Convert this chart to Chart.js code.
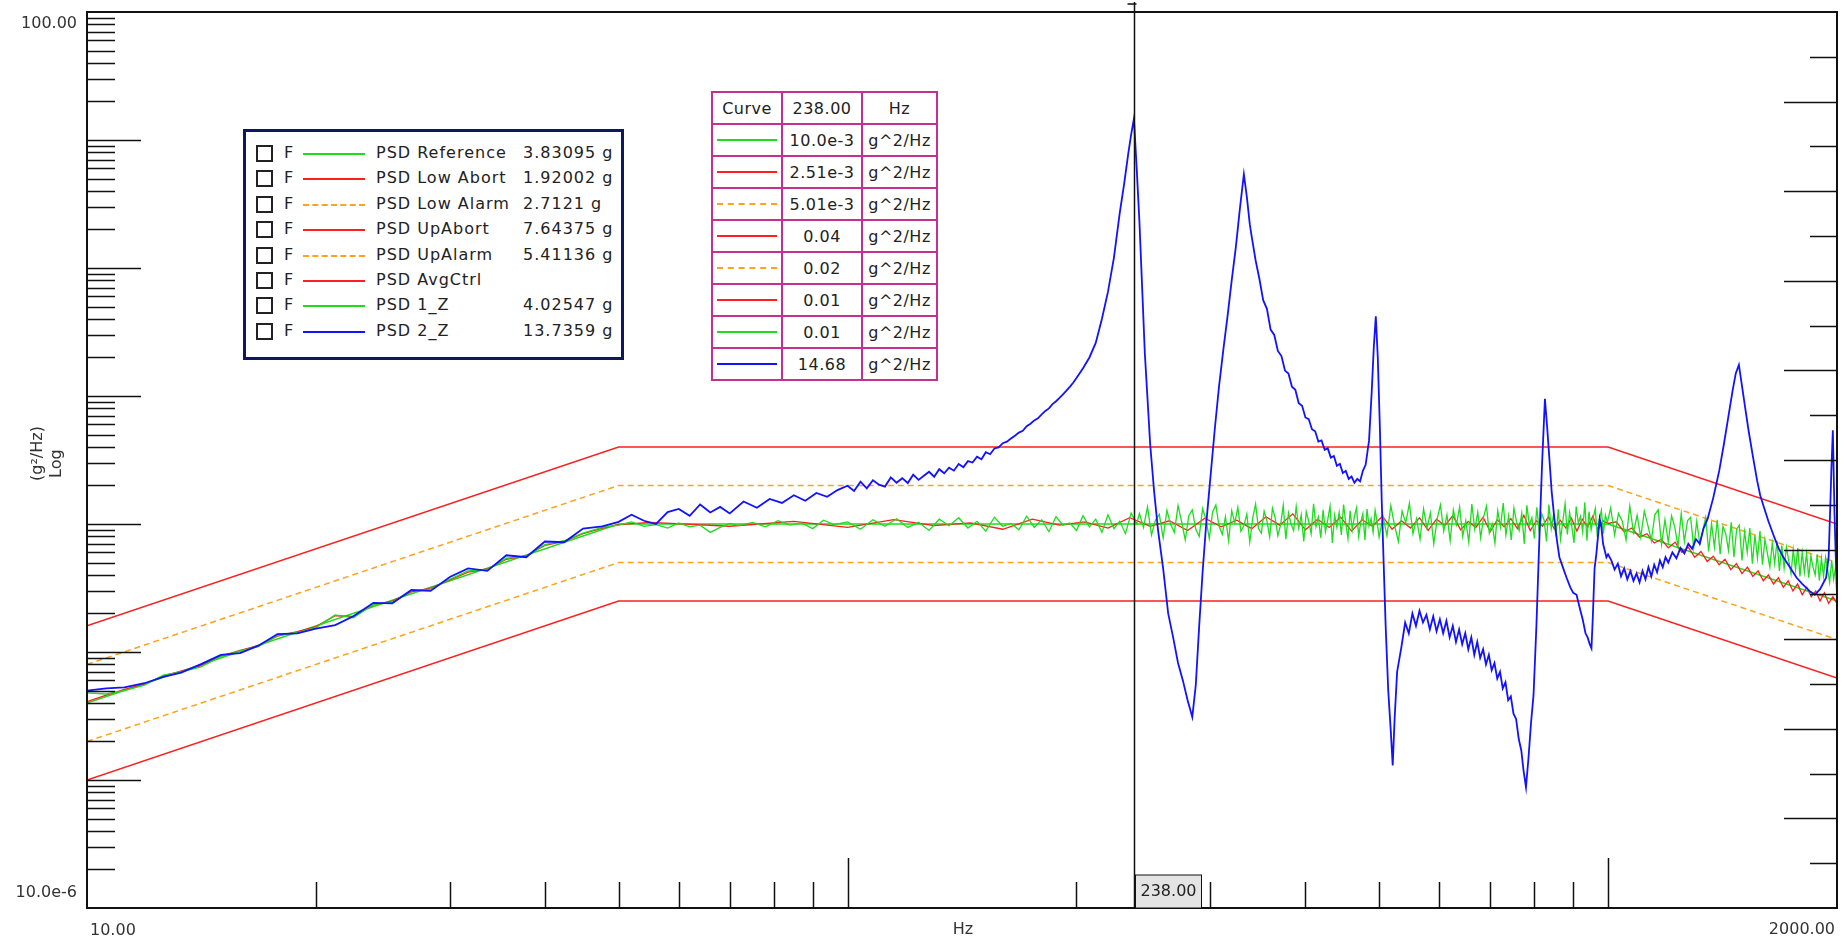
<!DOCTYPE html>
<html>
<head>
<meta charset="utf-8">
<title>PSD</title>
<script src="https://cdn.jsdelivr.net/npm/chart.js@4.4.1/dist/chart.umd.min.js"></script>
<style>
  body { margin: 0; background: #fff; overflow: hidden; }
  #wrap { position: relative; width: 1847px; height: 943px; font-family: "DejaVu Sans", sans-serif; color: #222; }
  #psd-chart { position: absolute; left: 0; top: 0; }
  #legend {
    position: absolute; left: 243px; top: 129px; width: 381px; height: 231px;
    box-sizing: border-box; border: 3px solid #0e1860; background: #fff;
    font-size: 16px; letter-spacing: 1px;
  }
  #legend .row { position: absolute; left: 0; height: 25px; width: 100%; }
  #legend .box { position: absolute; left: 10px; top: 4px; width: 17px; height: 17px; box-sizing: border-box; border: 2px solid #222; }
  #legend .f { position: absolute; left: 38px; top: 2px; }
  #legend .swatch { position: absolute; left: 57px; top: 12px; width: 62px; height: 0; }
  #legend .name { position: absolute; left: 130px; top: 2px; white-space: nowrap; }
  #legend .val { position: absolute; left: 277px; top: 2px; white-space: nowrap; }
  #readout {
    position: absolute; left: 711px; top: 91px; border-collapse: collapse;
    font-size: 16px; letter-spacing: 0.5px; background: #fff;
  }
  #readout td { border: 2px solid #c4308f; height: 30px; padding: 0; text-align: center; }
  #readout td.c1 { width: 68px; }
  #readout td.c2 { width: 78px; }
  #readout td.c3 { width: 73px; }
  #readout .swatch { width: 60px; height: 0; margin: 0 auto; }
</style>
</head>
<body>
<div id="wrap">
  <canvas id="psd-chart" width="1847" height="943"></canvas>
  <div id="legend"></div>
  <table id="readout"></table>
</div>
<script>
// profile breakpoints (Hz, g^2/Hz)
const profileFreq = [10, 50, 1000, 2000];
const psdReference = [0.0004, 0.01, 0.01, 0.0025];
const psdLowAbort = [0.0001, 0.0025, 0.0025, 0.000625];
const psdLowAlarm = [0.0002, 0.005, 0.005, 0.00125];
const psdUpAbort = [0.0016, 0.04, 0.04, 0.01];
const psdUpAlarm = [0.0008, 0.02, 0.02, 0.005];

// measured spectra, values in 1e-3 g^2/Hz
const rampFreq = [10, 10.6, 11.2, 11.9, 12.6, 13.3, 14.1, 15, 15.9, 16.8, 17.8, 18.9, 20, 21.2, 22.4, 23.8, 25.2, 26.7, 28.3, 30, 31.7, 33.6, 35.6, 37.8, 40, 42.4, 44.9, 47.6, 50];
const ramp1Z = [0.48, 0.47, 0.50, 0.55, 0.66, 0.70, 0.76, 0.92, 1.02, 1.10, 1.35, 1.42, 1.55, 1.95, 1.85, 2.35, 2.45, 3.0, 3.1, 3.7, 4.3, 4.4, 5.4, 5.6, 6.9, 7.4, 8.5, 9.4, 9.8];
const rampAvg = [0.41, 0.46, 0.51, 0.56, 0.65, 0.71, 0.78, 0.93, 1.03, 1.12, 1.33, 1.44, 1.58, 1.92, 1.9, 2.33, 2.5, 2.95, 3.15, 3.65, 4.2, 4.45, 5.3, 5.65, 6.8, 7.3, 8.4, 9.3, 9.9];
const ramp2Z = [0.50, 0.52, 0.53, 0.57, 0.64, 0.69, 0.80, 0.95, 0.98, 1.12, 1.38, 1.40, 1.52, 1.62, 1.90, 2.42, 2.40, 3.05, 3.0, 3.85, 4.5, 4.3, 5.7, 5.5, 7.3, 7.2, 9.2, 9.6, 10.4];

const midFreq = [52, 54, 56, 58, 60, 62, 64, 66, 68, 70, 72, 75, 78, 81, 84, 87, 90, 93, 96, 100, 104, 108, 112, 116, 120, 124, 128, 132, 136, 140, 144, 148, 152, 156, 160, 164, 168, 172, 176, 180, 184, 188, 192, 196, 200, 204, 208, 212, 216, 220, 224, 228, 232, 236, 240];
const mid1Z = [10.4, 9.6, 9.9, 9.3, 10.2, 9.5, 9.8, 8.6, 9.4, 10.1, 9.7, 10.3, 9.5, 10.6, 9.8, 10.2, 9.2, 10.7, 9.9, 10.4, 9.1, 10.8, 9.6, 11.0, 9.4, 10.3, 8.9, 10.9, 9.7, 11.2, 9.3, 10.5, 8.8, 11.3, 9.6, 10.1, 9.0, 11.5, 9.4, 10.8, 8.7, 11.4, 9.8, 10.2, 8.9, 11.6, 9.5, 10.9, 8.6, 11.8, 9.2, 10.5, 8.4, 12.2, 10.0];

const highFreq = [242, 245, 248, 251, 254, 257, 260, 263, 266, 269, 272, 275, 278, 281, 284, 287, 290, 293, 296, 299, 302, 305, 308, 311, 314, 317, 320, 323, 326, 329, 332, 335, 338, 341, 344, 347, 350, 353, 356, 359, 362, 365, 368, 371, 374, 377, 380, 383, 386, 389, 392, 395, 398, 401, 404, 407, 410, 413, 416, 419, 422, 425, 428, 431, 434, 437, 440, 443, 446, 449, 452, 455, 458, 461, 464, 467, 470, 473, 476, 479, 482, 485, 488, 491, 494, 497, 500];
const high1Z = [12.1, 9.4, 13.6, 8.2, 10.7, 11.9, 7.8, 12.8, 9.9, 8.6,
  13.9, 10.4, 7.5, 11.6, 12.9, 9.1, 8.0, 13.2, 10.9, 7.7,
  12.4, 14.1, 9.6, 8.3, 11.4, 7.4, 12.7, 10.2, 13.5, 8.8,
  9.7, 12.0, 7.2, 11.1, 14.3, 9.2, 8.5, 12.6, 10.6, 7.9,
  13.3, 11.2, 8.1, 9.8, 14.0, 7.6, 12.2, 10.0, 8.9, 13.7,
  9.3, 11.8, 7.3, 12.5, 10.5, 8.4, 14.4, 9.5, 11.3, 7.8,
  12.9, 8.7, 10.8, 13.8, 7.1, 11.7, 9.4, 12.3, 8.2, 14.2,
  10.1, 7.7, 12.7, 9.0, 11.5, 13.4, 8.0, 10.3, 12.0, 7.5,
  13.1, 9.6, 11.0, 8.6, 12.8, 10.4, 7.9];

const upperFreq = [506, 512, 518, 524, 530, 536, 542, 548, 554, 560, 566, 572, 578, 584, 590, 596, 602, 608, 614, 620, 626, 632, 638, 644, 650, 656, 662, 668, 674, 680, 686, 692, 698, 704, 710, 716, 722, 728, 734, 740, 746, 752, 758, 764, 770, 776, 782, 788, 794, 800, 806, 812, 818, 824, 830, 836, 842, 848, 854, 860, 866, 872, 878, 884, 890, 896, 902, 908, 914, 920, 926, 932, 938, 944, 950, 956, 962, 968, 974, 980, 986, 992, 998];
const upper1Z = [11.4, 8.1, 13.9, 9.7, 7.3, 12.6, 10.2, 14.5, 8.4, 11.0,
  7.6, 13.1, 9.3, 12.2, 7.0, 10.9, 14.1, 8.8, 11.8, 7.4,
  12.9, 9.9, 13.6, 8.0, 10.6, 7.2, 14.3, 9.1, 12.4, 7.8,
  11.3, 13.8, 8.5, 10.0, 7.1, 12.7, 9.5, 14.6, 8.2, 11.6,
  7.5, 13.3, 10.4, 8.9, 12.1, 7.0, 14.0, 9.8, 11.2, 7.7,
  13.5, 8.6, 12.0, 10.7, 7.3, 14.2, 9.2, 11.9, 8.0, 13.0,
  7.6, 10.5, 14.4, 8.3, 12.3, 9.6, 7.1, 13.7, 10.1, 11.5,
  8.7, 14.8, 7.4, 12.5, 9.0, 11.1, 13.2, 7.9, 10.8, 12.8,
  8.4, 11.7, 10.3];

const topFreq = [1008, 1020, 1032, 1044, 1056, 1068, 1080, 1092, 1104, 1116, 1128, 1140, 1152, 1164, 1176, 1188, 1200, 1212, 1224, 1236, 1248, 1260, 1272, 1284, 1296, 1308, 1320, 1332, 1344, 1356, 1368, 1380, 1392, 1404, 1416, 1428, 1440, 1452, 1464, 1476, 1488, 1500, 1512, 1524, 1536, 1548, 1560, 1572, 1584, 1596, 1608, 1620, 1632, 1644, 1656, 1668, 1680, 1692, 1704, 1716, 1728, 1740, 1752, 1764, 1776, 1788, 1800, 1812, 1824, 1836, 1848, 1860, 1872, 1884, 1896, 1908, 1920, 1932, 1944, 1956, 1968, 1980, 1992];
const top1Z = [13.4, 8.2, 12.1, 10.5, 7.5, 13.8, 8.6, 11.7,
  7.9, 12.6, 9.8, 7.4, 11.8, 12.9, 6.9, 10.8,
  7.2, 11.6, 9.4, 6.7, 12.1, 7.3, 10.6, 11.3, 6.5,
  10.5, 7.0, 8.9, 11.2, 6.1, 10.1, 6.6, 10.8,
  5.8, 9.6, 8.4, 6.2, 10.3, 5.5, 9.1, 9.8,
  5.2, 8.7, 6.0, 9.3, 4.9, 8.2, 5.4, 8.8, 4.8,
  7.6, 5.9, 4.6, 7.1, 4.9, 7.4, 4.3, 6.8,
  4.5, 6.6, 5.2, 4.1, 6.3, 4.4, 6.5, 3.9,
  6.0, 4.2, 5.9, 3.8, 5.6, 4.6, 4.0, 5.8,
  3.6, 5.4, 3.9, 5.5, 4.4, 3.5, 5.2, 3.7, 4.6];

const avgFlatFreq = [55, 70, 85, 100, 115, 130, 145, 160, 175, 190, 205, 220, 235, 250, 265, 280, 295, 310, 325, 340, 355, 370, 385, 400, 415, 430, 445, 460, 475, 490, 505, 520, 535, 550, 565, 580, 595, 610, 625, 640, 655, 670, 685, 700, 715, 730, 745, 760, 775, 790, 805, 820, 835, 850, 865, 880, 895, 910, 925, 940, 955, 970, 985, 1000];
const avgFlat = [10.3, 9.6, 10.5, 9.4, 10.8, 9.7, 10.2, 9.1, 10.9, 9.8, 10.4, 9.3, 11.2, 9.6, 10.6, 8.9, 11.1, 9.5, 10.7, 9.2, 11.4, 9.8, 12.0, 9.0, 10.9, 9.4, 11.3, 8.8, 10.8, 9.6, 11.5, 9.1, 10.6, 9.3, 11.2, 8.9, 10.9, 9.7, 11.6, 9.0, 10.5, 9.4, 11.3, 8.7, 10.8, 9.5, 11.0, 9.2, 11.7, 8.9, 10.6, 9.6, 11.4, 9.1, 10.7, 9.3, 11.1, 8.8, 10.9, 9.5, 11.5, 9.0, 10.6, 10.1];
const avgTopFreq = [1025, 1050, 1075, 1100, 1125, 1150, 1175, 1200, 1225, 1250, 1275, 1300, 1325, 1350, 1375, 1400, 1425, 1450, 1475, 1500, 1525, 1550, 1575, 1600, 1625, 1650, 1675, 1700, 1725, 1750, 1775, 1800, 1825, 1850, 1875, 1900, 1925, 1950, 1975, 2000];
const avgTop = [10.4, 8.7, 9.3, 7.9, 8.4, 7.1, 7.6, 6.5, 7.2, 6.0, 6.6, 5.5, 6.1, 5.1, 5.6, 4.8, 5.3, 4.4, 4.9, 4.1, 4.6, 3.9, 4.3, 3.6, 4.0, 3.4, 3.8, 3.2, 3.6, 3.0, 3.4, 2.8, 3.2, 2.7, 3.0, 2.5, 2.9, 2.4, 2.7, 2.4];

// PSD 2_Z from the end of the ramp on
const blueFreqA = [52, 54, 56, 58, 60, 62, 64, 66, 68, 70, 73, 76, 79, 82, 85, 88, 91, 94, 97,
  100, 102, 104, 106, 108, 110, 112, 114, 116, 118, 120, 122, 124, 126, 128, 130, 132, 134, 136, 138, 140, 142, 144, 146, 148, 150, 152, 154, 156, 158, 160, 162, 164, 166, 168, 170, 172, 174, 176, 178, 180, 182, 184, 186, 188, 190, 192, 194, 196, 198, 200,
  204, 208, 212, 216, 220, 224, 228, 231, 234, 236, 238];
const blueA = [11.8, 10.6, 10.0, 12.4, 13.1, 11.6, 14.2, 12.3, 13.6, 12.1, 15.0, 13.4, 15.7, 14.6, 16.8, 15.2, 17.5, 16.3, 18.4,
  19.9, 18.1, 21.4, 19.0, 22.0, 20.3, 19.6, 23.1, 21.0, 22.8, 20.9, 24.3, 22.1, 23.8, 25.6, 23.4, 26.8, 24.9, 27.5, 26.1,
  29.4, 27.8, 31.0, 30.2, 33.5, 32.0, 36.4, 35.1, 38.9, 39.6, 42.8, 44.0, 46.5, 48.9, 51.8, 53.5, 58.0, 60.7, 64.5, 67.0,
  71.8, 76.5, 80.0, 86.4, 91.0, 96.5, 103, 110, 118, 127, 138,
  165, 200, 260, 400, 650, 1200, 2700, 4500, 7900, 11000, 14680];
const blueFreqB = [240, 242, 244, 246, 248, 250, 253, 256, 260, 264, 268, 272, 276, 280, 284, 287, 290, 293, 296, 300, 304, 308, 312, 316, 320, 324, 328, 332, 335, 338,
  340, 344, 348, 352, 356, 360, 364, 368, 372, 376, 380, 384, 388, 392, 396, 400, 404, 408, 412, 416, 420, 424, 428, 432, 436, 440, 444, 448, 452, 456, 460, 464, 468, 472, 476, 480,
  485, 489, 492, 495, 498, 501, 504, 507, 510, 514, 518, 521, 524, 528];
const blueB = [6000, 2300, 700, 215, 95, 42, 18, 9.0, 4.5, 2.0, 1.3, 0.82, 0.6, 0.42, 0.31, 0.55, 1.6, 4.2, 9.5, 23, 55, 120, 230, 420, 800, 1450, 2900, 5400, 3600, 2200,
  1750, 1150, 820, 560, 480, 330, 300, 225, 205, 158, 150, 118, 112, 88, 84, 68, 66, 55, 53, 44,
  45, 38, 39, 33, 34, 28.5, 29.5, 25, 26, 22.5, 23.5, 21, 22.5, 21.5, 26, 29,
  45, 110, 240, 420, 200, 60, 15, 4.8, 1.6, 0.5, 0.24, 0.13, 0.3, 0.7];
const blueFreqC = [535, 541, 547, 553, 559, 565, 571, 577, 583, 589, 595, 601, 607, 613, 619, 625, 631, 637, 643, 649, 655, 661, 667, 673, 679, 685, 691, 697, 703, 709, 715, 721, 727, 733, 739, 745, 751, 757, 763, 769,
  774, 780, 786, 792, 798, 805, 812, 819, 826, 832, 838, 843, 850, 857, 863, 872, 882, 892, 900, 909, 918, 926, 934, 940, 946, 951, 955, 960, 965, 970, 975, 980, 985, 990, 995, 1000];
const blueC = [1.1, 1.7, 1.4, 2.0, 1.6, 2.1, 1.7, 1.95, 1.5, 1.9, 1.45, 1.8, 1.4, 1.75, 1.3, 1.6, 1.2, 1.5, 1.15, 1.4,
  1.05, 1.3, 0.95, 1.2, 0.9, 1.05, 0.8, 0.95, 0.72, 0.82, 0.62, 0.7, 0.52, 0.58, 0.42, 0.45, 0.33, 0.3, 0.21, 0.17,
  0.12, 0.088, 0.15, 0.28, 0.46, 1.6, 7.3, 30, 95, 55, 30, 18, 11, 7.3, 5.5, 4.6, 3.8, 3.2, 2.9, 2.8, 2.2, 1.8, 1.4, 1.3, 1.15, 1.07, 1.9, 4.5, 5.8, 8.0, 11, 9.5, 7.0, 6.2, 5.5, 5.8];
const blueFreqD = [1010, 1020, 1030, 1040, 1050, 1060, 1070, 1080, 1090, 1100, 1110, 1120, 1130, 1140, 1150, 1160, 1170, 1180, 1190, 1200,
  1215, 1230, 1245, 1260, 1275, 1290, 1305, 1320,
  1335, 1352, 1375, 1400, 1420, 1440, 1458, 1472, 1486, 1500, 1515, 1530, 1550, 1570, 1585, 1600, 1625, 1650, 1675, 1700, 1730, 1770, 1800, 1840, 1870, 1900, 1935, 1950, 1960, 1966, 1975, 1985, 1992, 2000];
const blueD = [5.2, 4.4, 4.9, 3.9, 4.5, 3.7, 4.3, 3.6, 4.1, 3.5, 4.3, 3.7, 4.6, 3.9, 4.8, 4.2, 5.2, 4.6, 5.5, 5.0,
  6.0, 5.4, 6.5, 5.9, 7.0, 6.4, 7.6, 7.0,
  9.2, 11, 16, 26, 42, 70, 110, 150, 175, 120, 80, 54, 34, 22, 16.8, 14, 10.5, 8.2, 6.5, 5.5, 4.7, 3.8, 3.4, 3.0, 2.8, 3.1, 3.8, 5.5, 14, 26, 54, 12, 5.8, 2.8];

// legend + cursor readout
const legendNames = ['PSD Reference', 'PSD Low Abort', 'PSD Low Alarm', 'PSD UpAbort', 'PSD UpAlarm', 'PSD AvgCtrl', 'PSD 1_Z', 'PSD 2_Z'];
const legendRms = ['3.83095 g', '1.92002 g', '2.7121 g', '7.64375 g', '5.41136 g', '', '4.02547 g', '13.7359 g'];
const cursorFreq = 238;
const cursorValues = ['10.0e-3', '2.51e-3', '5.01e-3', '0.04', '0.02', '0.01', '0.01', '14.68'];

const GREEN = '#1edc1e', RED = '#ff1f1f', ORANGE = '#ffa21c', BLUE = '#1212ff';
const curveColors = [GREEN, RED, ORANGE, RED, ORANGE, RED, GREEN, BLUE];
const curveDashed = [false, false, true, false, true, false, false, false];

function toPoints(freqs, values, unit) {
  return freqs.map((f, i) => ({ x: f, y: values[i] * unit }));
}

// legend box
const legendEl = document.getElementById('legend');
legendNames.forEach((name, i) => {
  const row = document.createElement('div');
  row.className = 'row';
  row.style.top = (9 + i * 25.4) + 'px';
  const box = document.createElement('div'); box.className = 'box';
  const f = document.createElement('div'); f.className = 'f'; f.textContent = 'F';
  const sw = document.createElement('div'); sw.className = 'swatch';
  sw.style.borderTop = '2px ' + (curveDashed[i] ? 'dashed ' : 'solid ') + curveColors[i];
  const nm = document.createElement('div'); nm.className = 'name'; nm.textContent = name;
  const val = document.createElement('div'); val.className = 'val'; val.textContent = legendRms[i];
  row.append(box, f, sw, nm, val);
  legendEl.appendChild(row);
});

// cursor readout table
const table = document.getElementById('readout');
const head = table.insertRow();
['Curve', cursorFreq.toFixed(2), 'Hz'].forEach((t, j) => {
  const c = head.insertCell(); c.textContent = t; c.className = 'c' + (j + 1);
});
cursorValues.forEach((v, i) => {
  const r = table.insertRow();
  const c1 = r.insertCell(); c1.className = 'c1';
  const sw = document.createElement('div'); sw.className = 'swatch';
  sw.style.borderTop = '2px ' + (curveDashed[i] ? 'dashed ' : 'solid ') + curveColors[i];
  c1.appendChild(sw);
  const c2 = r.insertCell(); c2.className = 'c2'; c2.textContent = v;
  const c3 = r.insertCell(); c3.className = 'c3'; c3.textContent = 'g^2/Hz';
});

// ticks, frame, cursor and axis texts
const psdFrame = {
  id: 'psdFrame',
  afterDatasetsDraw(chart) {
    const { ctx, chartArea: a, scales } = chart;
    const xs = scales.x, ys = scales.y, ys2 = scales.y2;
    ctx.save();
    ctx.strokeStyle = '#111';
    ctx.lineWidth = 1.5;
    ctx.beginPath();
    // left log ticks
    for (let d = -5; d <= 1; d++) {
      for (let k = 1; k <= 9; k++) {
        const v = k * Math.pow(10, d);
        if (d === -5 && k === 1) continue;
        const py = Math.round(ys.getPixelForValue(v)) + 0.5;
        ctx.moveTo(a.left, py);
        ctx.lineTo(a.left + (k === 1 ? 54 : 28), py);
      }
    }
    // right linear divisions
    for (let k = 1; k < 20; k++) {
      const py = Math.round(ys2.getPixelForValue(k)) + 0.5;
      ctx.moveTo(a.right, py);
      ctx.lineTo(a.right - (k % 2 ? 27 : 53), py);
    }
    // bottom log ticks
    for (let d = 1; d <= 2; d++) {
      for (let k = 2; k <= 10; k++) {
        const v = k * Math.pow(10, d);
        const px = Math.round(xs.getPixelForValue(v)) + 0.5;
        ctx.moveTo(px, a.bottom);
        ctx.lineTo(px, a.bottom - (k === 10 ? 50 : 26));
      }
    }
    ctx.stroke();

    // frame
    ctx.lineWidth = 2;
    ctx.strokeStyle = '#111';
    ctx.strokeRect(a.left, a.top, a.right - a.left, a.bottom - a.top);

    // cursor
    const cx = Math.round(xs.getPixelForValue(cursorFreq)) + 0.5;
    ctx.lineWidth = 1.5;
    ctx.beginPath();
    ctx.moveTo(cx, 2);
    ctx.lineTo(cx, a.bottom);
    ctx.moveTo(cx - 7, 4);
    ctx.lineTo(cx + 2, 4);
    ctx.stroke();
    ctx.fillStyle = '#e4e4e4';
    ctx.fillRect(cx + 1, a.bottom - 33, 66, 33);
    ctx.lineWidth = 1;
    ctx.strokeRect(cx + 1, a.bottom - 33, 66, 33);

    ctx.fillStyle = '#222';
    ctx.font = '16px "DejaVu Sans"';
    ctx.textBaseline = 'middle';
    ctx.textAlign = 'center';
    ctx.fillText(cursorFreq.toFixed(2), cx + 34, a.bottom - 16);

    ctx.fillStyle = '#333';
    ctx.textAlign = 'right';
    ctx.fillText('100.00', a.left - 10, a.top + 12);
    ctx.fillText('10.0e-6', a.left - 10, a.bottom - 15);
    ctx.textAlign = 'left';
    ctx.fillText('10.00', a.left + 3, a.bottom + 23);
    ctx.textAlign = 'right';
    ctx.fillText('2000.00', a.right - 2, a.bottom + 22);
    ctx.textAlign = 'center';
    ctx.fillText('Hz', (a.left + a.right) / 2 + 1, a.bottom + 22);

    ctx.save();
    ctx.translate(38, 481);
    ctx.rotate(-Math.PI / 2);
    ctx.textAlign = 'left';
    ctx.font = '16px "DejaVu Sans"';
    ctx.fillText('(g\u00B2/Hz)', 0, 0);
    ctx.fillText('Log', 3, 19);
    ctx.restore();
    ctx.restore();
  }
};

function lineSet(label, data, color, opts) {
  return Object.assign({
    label: label,
    data: data,
    borderColor: color,
    borderWidth: 1.5,
    pointRadius: 0,
    tension: 0,
    fill: false
  }, opts || {});
}

const milli = 1e-3;
const datasets = [
  lineSet('PSD 2_Z', toPoints(rampFreq, ramp2Z, milli)
    .concat(toPoints(blueFreqA, blueA, milli), toPoints(blueFreqB, blueB, milli),
            toPoints(blueFreqC, blueC, milli), toPoints(blueFreqD, blueD, milli)), BLUE, { order: 1, borderWidth: 1.8 }),
  lineSet('PSD 1_Z', toPoints(rampFreq, ramp1Z, milli)
    .concat(toPoints(midFreq, mid1Z, milli), toPoints(highFreq, high1Z, milli),
            toPoints(upperFreq, upper1Z, milli), toPoints(topFreq, top1Z, milli)), GREEN, { order: 2, borderWidth: 1.3 }),
  lineSet('PSD AvgCtrl', toPoints(rampFreq, rampAvg, milli)
    .concat(toPoints(avgFlatFreq, avgFlat, milli), toPoints(avgTopFreq, avgTop, milli)), RED, { order: 3, borderWidth: 1.3 }),
  lineSet('PSD UpAbort', toPoints(profileFreq, psdUpAbort, 1), RED, { order: 4 }),
  lineSet('PSD UpAlarm', toPoints(profileFreq, psdUpAlarm, 1), ORANGE, { order: 4, borderDash: [6, 4] }),
  lineSet('PSD Low Alarm', toPoints(profileFreq, psdLowAlarm, 1), ORANGE, { order: 4, borderDash: [6, 4] }),
  lineSet('PSD Low Abort', toPoints(profileFreq, psdLowAbort, 1), RED, { order: 4 }),
  lineSet('PSD Reference', toPoints(profileFreq, psdReference, 1), GREEN, { order: 5 })
];

new Chart(document.getElementById('psd-chart'), {
  type: 'line',
  data: { datasets: datasets },
  options: {
    responsive: false,
    animation: false,
    devicePixelRatio: 1,
    layout: { padding: { left: 87, right: 10, top: 12, bottom: 35 } },
    scales: {
      x: { type: 'logarithmic', min: 10, max: 2000, display: false },
      y: { type: 'logarithmic', min: 1e-5, max: 100, display: false },
      y2: { type: 'linear', min: 0, max: 20, display: false, position: 'right' }
    },
    plugins: {
      legend: { display: false },
      tooltip: { enabled: false }
    }
  },
  plugins: [psdFrame]
});
</script>
</body>
</html>
